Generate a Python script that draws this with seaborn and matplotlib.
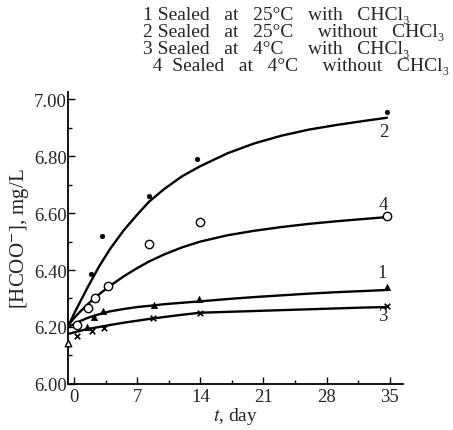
import matplotlib
matplotlib.use("Agg")
import matplotlib.pyplot as plt
from matplotlib.ticker import MultipleLocator, FormatStrFormatter
import seaborn as sns
import pandas as pd

# measured points (day, value)
s1_day = [1.4, 2.2, 3.2, 8.9, 13.8, 34.7]
s1_val = [6.20, 6.235, 6.256, 6.277, 6.298, 6.34]
s2_day = [1.9, 3.1, 8.3, 13.6, 34.7]
s2_val = [6.386, 6.518, 6.66, 6.79, 6.955]
s3_day = [0.3, 2.0, 3.3, 8.7, 14.0, 34.7]
s3_val = [6.168, 6.186, 6.196, 6.23, 6.25, 6.274]
s4_day = [0.3, 1.5, 2.3, 3.7, 8.3, 14.0, 34.7]
s4_val = [6.207, 6.266, 6.30, 6.345, 6.49, 6.57, 6.59]
start_day = [-0.7]
start_val = [6.145]

# fitted curves
c_day = [-0.7, 0.0, 0.6, 1.5, 2.8, 4.0, 5.5, 7.0, 8.3, 10.0, 12.0, 14.0,
         17.0, 20.0, 23.0, 26.0, 29.0, 32.0, 34.7]
c1_val = [6.200, 6.210, 6.220, 6.232, 6.245, 6.255, 6.263, 6.270, 6.274, 6.280,
          6.285, 6.290, 6.298, 6.305, 6.311, 6.317, 6.322, 6.326, 6.330]
c2_val = [6.200, 6.248, 6.285, 6.340, 6.415, 6.475, 6.540, 6.595, 6.640, 6.685,
          6.730, 6.765, 6.810, 6.845, 6.872, 6.893, 6.909, 6.923, 6.935]
c3_val = [6.175, 6.181, 6.186, 6.193, 6.200, 6.207, 6.215, 6.222, 6.228, 6.235,
          6.243, 6.250, 6.253, 6.256, 6.259, 6.262, 6.265, 6.268, 6.270]
c4_val = [6.205, 6.232, 6.252, 6.280, 6.316, 6.345, 6.378, 6.407, 6.430, 6.455,
          6.480, 6.500, 6.522, 6.538, 6.551, 6.562, 6.571, 6.579, 6.586]

legend_lines = [
    "1 Sealed   at   25°C   with   CHCl₃",
    "2 Sealed   at   25°C     without   CHCl₃",
    "3 Sealed   at   4°C     with   CHCl₃",
    "  4  Sealed   at   4°C     without   CHCl₃",
]
curve_labels = ["1", "2", "3", "4"]
label_day = [34.2, 34.3, 34.2, 34.3]
label_val = [6.39, 6.885, 6.24, 6.63]

x_ticks = [0, 7, 14, 21, 28, 35]
y_ticks = [6.0, 6.2, 6.4, 6.6, 6.8, 7.0]

sns.set_style("ticks")
plt.rcParams["font.family"] = ["Liberation Serif", "DejaVu Serif"]
plt.rcParams["mathtext.fontset"] = "stix"

fig = plt.figure(figsize=(4.53, 4.31), dpi=100)
ax = fig.add_axes([0.150, 0.107, 0.740, 0.677])

curves = pd.DataFrame({
    "day": c_day * 4,
    "val": c1_val + c2_val + c3_val + c4_val,
    "s": ["1"] * len(c_day) + ["2"] * len(c_day) + ["3"] * len(c_day) + ["4"] * len(c_day),
})
for s in ["1", "2", "3", "4"]:
    sns.lineplot(data=curves[curves.s == s], x="day", y="val", ax=ax,
                 color="black", lw=1.7, legend=False)

d1 = pd.DataFrame({"day": s1_day, "val": s1_val})
d2 = pd.DataFrame({"day": s2_day, "val": s2_val})
d3 = pd.DataFrame({"day": s3_day, "val": s3_val})
d4 = pd.DataFrame({"day": s4_day, "val": s4_val})
d0 = pd.DataFrame({"day": start_day, "val": start_val})
sns.scatterplot(data=d1, x="day", y="val", ax=ax, marker="^", s=22,
                color="black", edgecolor="black", zorder=5, clip_on=False)
sns.scatterplot(data=d2, x="day", y="val", ax=ax, marker="o", s=12,
                color="black", edgecolor="black", zorder=5, clip_on=False)
sns.scatterplot(data=d3, x="day", y="val", ax=ax, marker="x", s=16,
                color="black", linewidth=1.2, zorder=5, clip_on=False)
sns.scatterplot(data=d4, x="day", y="val", ax=ax, marker="o", s=36,
                facecolor="white", edgecolor="black", linewidth=1.0,
                zorder=5, clip_on=False)
sns.scatterplot(data=d0, x="day", y="val", ax=ax, marker="^", s=22,
                facecolor="white", edgecolor="black", linewidth=1.0,
                zorder=5, clip_on=False)

for lab, dx, dy in zip(curve_labels, label_day, label_val):
    ax.text(dx, dy, lab, fontsize=13.5, ha="center", va="center")

ax.set_xlim(-0.7, 36.5)
ax.set_ylim(6.0, 7.025)
ax.set_xticks(x_ticks)
ax.set_yticks(y_ticks)
ax.xaxis.set_minor_locator(MultipleLocator(3.5))
ax.yaxis.set_minor_locator(MultipleLocator(0.1))
ax.yaxis.set_major_formatter(FormatStrFormatter("%.2f"))
ax.tick_params(which="both", direction="in", width=1.0, color="black",
               labelsize=13.5)
ax.tick_params(which="major", length=5)
ax.tick_params(which="minor", length=3)
ax.tick_params(axis="x", pad=3)
ax.tick_params(axis="y", pad=1)
for sp in ["top", "right"]:
    ax.spines[sp].set_visible(False)
for sp in ["left", "bottom"]:
    ax.spines[sp].set_linewidth(1.3)
    ax.spines[sp].set_color("black")

ax.set_xlabel("$t$, day", fontsize=14, labelpad=0)
ax.set_ylabel("[HCOO$^{-}$], mg/L", fontsize=15, labelpad=2)

fig.text(0.316, 1 - 7 / 431, "\n".join(legend_lines), fontsize=14,
         ha="left", va="top", multialignment="left", linespacing=1.0)

fig.savefig("out.png", dpi=100)
